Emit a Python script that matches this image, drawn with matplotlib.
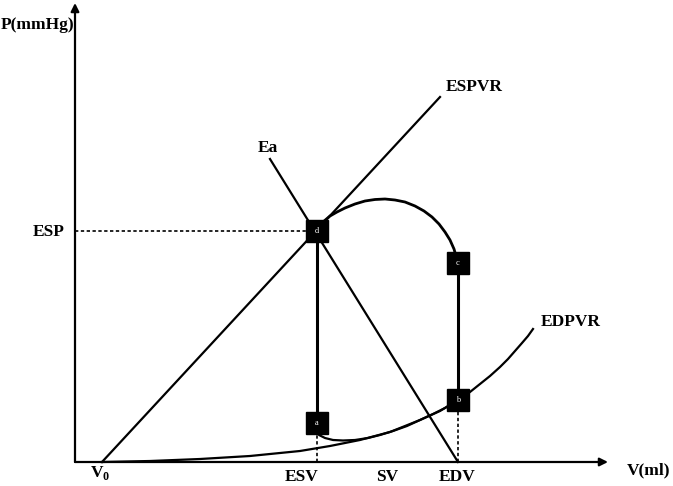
import matplotlib
matplotlib.use("Agg")
import matplotlib.pyplot as plt

plt.rcParams['font.family'] = ['Liberation Serif', 'DejaVu Serif']
plt.rcParams['mathtext.fontset'] = 'custom'
plt.rcParams['mathtext.rm'] = 'Liberation Serif'
plt.rcParams['mathtext.bf'] = 'Liberation Serif:bold'

# schematic P-V loop (arbitrary units, origin at axis corner)
V0 = 27
ESV = 242
EDV = 383
ESP = 231

# corner points of the loop: a, b, c, d
loopV = [242, 383, 383, 242]
loopP = [39, 62, 199, 231]
loopNames = ['a', 'b', 'c', 'd']

# ESPVR line (V0 -> through d)
espvrV = [27, 365]
espvrP = [0, 365]

# Ea line (EDV on axis -> through d)
eaV = [383, 195]
eaP = [0, 303]

# EDPVR curve
edpvrV = [27, 75, 125, 175, 205, 225, 255, 285, 315, 345, 365, 383, 395, 405, 415, 425, 433, 440, 447, 453, 458]
edpvrP = [0, 1, 3, 6, 9, 11, 16, 22, 30, 42, 51, 62, 70, 78, 86, 95, 103, 111, 119, 126, 133]

# filling curve a -> b
fillV = [242, 244, 250, 258, 268, 280, 293, 305, 318, 332, 345, 358, 370, 383]
fillP = [35, 27, 24, 22, 21.5, 22, 24, 27, 31, 36, 42, 48, 54, 62]

# ejection arc c -> d
ejectV = [383, 381, 379, 375, 370, 364, 357, 349, 340, 330, 320, 310, 300, 290, 280, 270, 262, 255, 248, 242]
ejectP = [199, 206, 213, 222, 230, 238, 245, 251, 256, 260, 262, 263, 262.5, 261, 258, 254, 250, 246, 240, 231]

xmax = 533
ymax = 459

dpi = 100
fig = plt.figure(figsize=(6.73, 4.86), dpi=dpi)
ax = fig.add_axes([0, 0, 1, 1])
ax.set_xlim(-75, 598)
ax.set_ylim(-24, 462)
ax.axis('off')

lw = 1.6
# axes with arrows
ax.annotate('', xy=(xmax, 0), xytext=(0, 0),
            arrowprops=dict(arrowstyle='-|>', lw=lw, color='black',
                            mutation_scale=12, shrinkA=0, shrinkB=0))
ax.annotate('', xy=(0, ymax), xytext=(0, 0),
            arrowprops=dict(arrowstyle='-|>', lw=lw, color='black',
                            mutation_scale=12, shrinkA=0, shrinkB=0))

# dashed guides
ax.plot([0, ESV], [ESP, ESP], color='black', lw=1.2, ls=(0, (2, 1.5)))
ax.plot([ESV, ESV], [0, loopP[0]], color='black', lw=1.2, ls=(0, (2, 1.5)))
ax.plot([EDV, EDV], [0, loopP[1]], color='black', lw=1.2, ls=(0, (2, 1.5)))

# relations
ax.plot(espvrV, espvrP, color='black', lw=lw)
ax.plot(eaV, eaP, color='black', lw=lw)
ax.plot(edpvrV, edpvrP, color='black', lw=lw)

# loop
ax.plot(fillV, fillP, color='black', lw=lw)
ax.plot([loopV[1], loopV[2]], [loopP[1], loopP[2]], color='black', lw=lw + 0.6)
ax.plot(ejectV, ejectP, color='black', lw=lw + 0.4)
ax.plot([loopV[3], loopV[0]], [loopP[3], loopP[0]], color='black', lw=lw + 0.6)

for v, p, name in zip(loopV, loopP, loopNames):
    ax.plot(v, p, marker='s', markersize=16, color='black', zorder=5)
    ax.text(v, p, name, color='white', fontsize=6, ha='center', va='center', zorder=6)

tkw = dict(fontsize=12.5, fontweight='bold', ha='center', va='center')
ax.text(-37, 437, 'P(mmHg)', **tkw)
ax.text(574, -8, 'V(ml)', **tkw)
ax.text(-26, 230, 'ESP', **tkw)
ax.text(193, 314, 'Ea', **tkw)
ax.text(399, 375, 'ESPVR', **tkw)
ax.text(496, 140, 'EDPVR', **tkw)
ax.text(25, -11, r'$\mathbf{V}_\mathbf{0}$', **tkw)
ax.text(227, -15, 'ESV', **tkw)
ax.text(312, -15, 'SV', **tkw)
ax.text(382, -15, 'EDV', **tkw)

fig.savefig('out.png', dpi=dpi)
